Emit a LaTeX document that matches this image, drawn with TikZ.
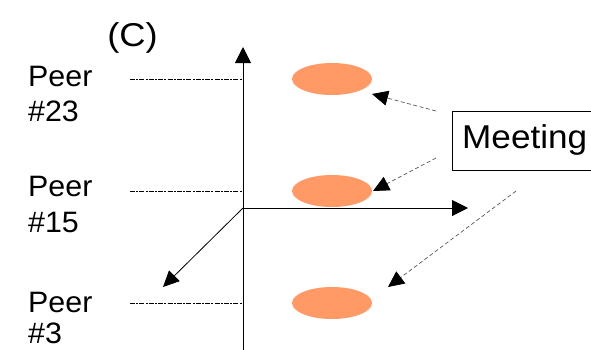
\documentclass[tikz,border=0pt]{standalone}
\usepackage{fontspec}
\setmainfont{Liberation Sans}
\usetikzlibrary{arrows.meta,shapes.geometric}
\definecolor{peach}{HTML}{FF9966}
\tikzset{
  lbl/.style={anchor=base west,inner sep=0pt,font=\fontsize{29.5}{30}\selectfont},
  blob/.style={ellipse,fill=peach,draw=none,minimum width=80pt,minimum height=32pt,inner sep=0pt},
  axis/.style={line width=1pt,-{Triangle[length=16pt,width=16pt]}},
  guide/.style={line width=0.8pt,dash pattern=on 5pt off 1.2pt on 2pt off 1.2pt},
  pointer/.style={line width=0.7pt,draw=black!65,dash pattern=on 4pt off 2.5pt,-{Triangle[length=16pt,width=15pt,color=black]}}
}
\begin{document}
\begin{tikzpicture}[x=1pt,y=-1pt]
\useasboundingbox (0,0) rectangle (591,349);
\clip (0,0) rectangle (591,349);
% title
\node[anchor=base,inner sep=0pt,font=\fontsize{33}{34}\selectfont] (title) at (132.5,46) {\scalebox{1.1}[1]{(C)}};
% labels
\node[lbl] (p23a) at (28,86) {\scalebox{1.03}[1]{Peer}};
\node[lbl] (p23b) at (28,121) {\scalebox{1.03}[1]{\#23}};
\node[lbl] (p15a) at (28,196) {\scalebox{1.03}[1]{Peer}};
\node[lbl] (p15b) at (28,232) {\scalebox{1.03}[1]{\#15}};
\node[lbl] (p3a) at (28,312) {\scalebox{1.03}[1]{Peer}};
\node[lbl] (p3b) at (28,343) {\scalebox{1.03}[1]{\#3}};
% axes
\coordinate (O) at (243,208);
\coordinate (ytop) at (243,47);
\coordinate (ybot) at (243,352);
\coordinate (xend) at (468,208);
\coordinate (zend) at (163,287);
\draw[line width=1pt] (O) -- (ybot);
\draw[axis] (O) -- (ytop);
\draw[axis] (O) -- (xend);
\draw[line width=0.8pt,-{Triangle[length=16pt,width=15pt]}] (O) -- (zend);
% guides
\coordinate (g23) at (130,79);
\coordinate (a23) at (243,79);
\coordinate (g15) at (130,191);
\coordinate (a15) at (243,191);
\coordinate (g3) at (130,303);
\coordinate (a3) at (243,303);
\draw[guide] (g23) -- (a23);
\draw[guide] (g15) -- (a15);
\draw[guide] (g3) -- (a3);
% ellipses
\node[blob] (e1) at (332,79) {};
\node[blob] (e2) at (332,191) {};
\node[blob] (e3) at (332,303) {};
% meeting box
\node[draw,line width=1pt,anchor=north west,minimum height=59pt,minimum width=170pt,inner sep=0pt] (m) at (452,110.5) {};
\node[anchor=base west,inner sep=0pt,font=\fontsize{33}{34}\selectfont] (mt) at (462,148) {\scalebox{1.065}[1]{Meeting}};
% pointers
\coordinate (s1) at (436,111);
\coordinate (t1) at (372,94);
\coordinate (s2) at (436,158);
\coordinate (t2) at (373,191);
\coordinate (s3) at (516,191);
\coordinate (t3) at (388,287);
\draw[pointer] (s1) -- (t1);
\draw[pointer] (s2) -- (t2);
\draw[pointer] (s3) -- (t3);
\end{tikzpicture}
\end{document}
